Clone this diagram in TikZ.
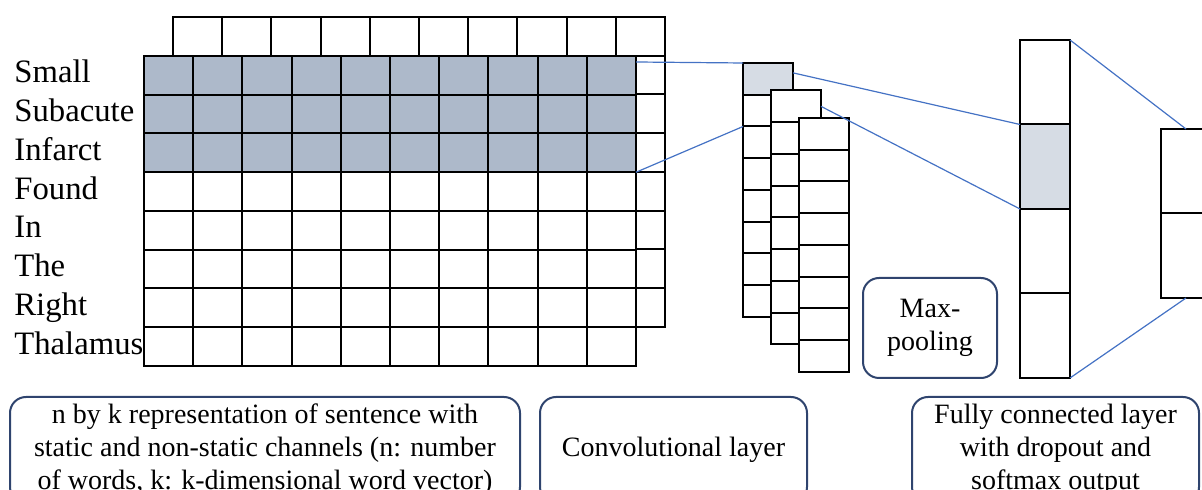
\documentclass[tikz,border=0pt]{standalone}
\usepackage{fontspec}
\setmainfont{Liberation Serif}
\definecolor{cellblue}{RGB}{173,185,202}
\definecolor{celllight}{RGB}{214,220,228}
\definecolor{linkblue}{RGB}{68,114,196}
\definecolor{boxnavy}{RGB}{47,68,110}

\begin{document}
\begin{tikzpicture}[x=0.5pt,y=-0.5pt,
  cell/.style={draw, line width=1pt, fill=white, inner sep=0pt, outer sep=0pt},
  incell/.style={cell, minimum width=24.6pt, minimum height=19.375pt},
  convcell/.style={cell, minimum width=25pt, minimum height=15.875pt},
  fccell/.style={cell, minimum width=25pt, minimum height=42.25pt},
  word/.style={anchor=west, inner sep=0pt, font=\fontsize{16.35}{18}\selectfont,
               text height=11.4pt, text depth=4pt},
  capbox/.style={draw=boxnavy, line width=1pt, rounded corners=8pt, align=center,
              inner ysep=1pt, minimum height=53pt, font=\fontsize{14}{16.5}\selectfont},
  link/.style={draw=linkblue, line width=0.6pt}]
\useasboundingbox (0,0) rectangle (1202,490);
\clip (0,0) rectangle (1202,490);
% ---- input matrix: back channel ----
\foreach \r in {0,...,7}
  \foreach \c in {0,...,9}
    \node[incell] (b-\r-\c) at ({173+49.2*(\c+0.5)},{17+38.75*(\r+0.5)}) {};
% ---- input matrix: front channel, first three words shaded ----
\foreach \r in {0,...,7}
  \foreach \c in {0,...,9} {
    \ifnum\r<3 \def\fc{cellblue}\else\def\fc{white}\fi
    \node[incell, fill=\fc] (f-\r-\c) at ({144+49.2*(\c+0.5)},{56+38.75*(\r+0.5)}) {};
  }
% ---- words of the sentence ----
\foreach \w [count=\i from 0] in {Small,Subacute,Infarct,Found,In,The,Right,Thalamus}
  \node[word] (w-\i) at (14,{56+38.75*(\i+0.5)}) {\w};
% ---- convolutional feature maps ----
\foreach \k in {0,1,2}
  \foreach \j in {0,...,7} {
    \ifnum\numexpr\k+\j\relax=0 \def\fc{celllight}\else\def\fc{white}\fi
    \node[convcell, fill=\fc] (c\k-\j) at ({768+28*\k},{63+27.5*\k+31.75*(\j+0.5)}) {};
  }
% ---- fully connected layer and output ----
\foreach \j in {0,...,3} {
  \ifnum\j=1 \def\fc{celllight}\else\def\fc{white}\fi
  \node[fccell, fill=\fc] (fc-\j) at (1045,{40+84.5*(\j+0.5)}) {};
}
\foreach \j in {0,1}
  \node[fccell] (out-\j) at (1186,{129+84.5*(\j+0.5)}) {};
% ---- captions ----
\node[capbox, minimum width=67pt, minimum height=50pt] (pool) at (930,328) {Max-\\pooling};
\node[capbox, minimum width=255pt] (inbox) at (265,450)
  {n by k representation of sentence with\\static and non-static channels (n: number\\of words, k: k-dimensional word vector)};
\node[capbox, minimum width=133.5pt] (convbox) at (673.5,450) {Convolutional layer};
\node[capbox, minimum width=143.5pt] (fcbox) at (1055.5,450)
  {Fully connected layer\\with dropout and\\softmax output};
% ---- links between layers ----
\draw[link] ([yshift=-3pt]f-0-9.north east) -- (c0-0.north west);
\draw[link] (f-2-9.south east) -- (c0-1.south west);
\draw[link] ([yshift=3pt]c0-0.east) -- (fc-1.north west);
\draw[link] (c1-0.east) -- (fc-1.south west);
\draw[link] (fc-0.north east) -- (out-0.north);
\draw[link] (fc-3.south east) -- (out-1.south);
\end{tikzpicture}
\end{document}
